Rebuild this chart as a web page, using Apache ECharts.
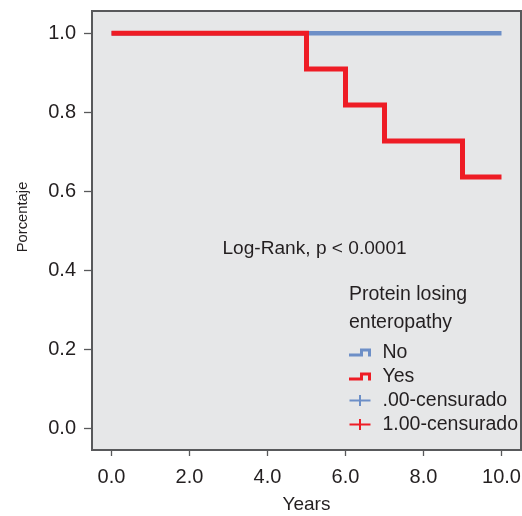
<!DOCTYPE html>
<html><head><meta charset="utf-8">
<script src="https://cdn.jsdelivr.net/npm/echarts@6/dist/echarts.min.js"></script>
<style>html,body{margin:0;padding:0;background:#fff}#c{width:522px;height:516px}</style>
</head><body><div id="c"></div>
<script>
const xTicks = [0, 2, 4, 6, 8, 10];
const yTicks = [0, 0.2, 0.4, 0.6, 0.8, 1.0];
const noTimes = [0, 10];
const noSurv = [1, 1];
const yesTimes = [0, 5, 6, 7, 9, 10];
const yesSurv = [1, 0.909, 0.818, 0.727, 0.636, 0.636];
const legendNames = ['No', 'Yes', '.00-censurado', '1.00-censurado'];

const FONT = '"Liberation Sans", Arial, sans-serif';
const FS = 19.5;
const TXT = '#231f20';
const AX = '#58595b';
const BLUE = '#6d8fc7';
const RED = '#ee1c25';
const stepIcon = 'path://M0 5 H11 V0 H22 V8 H19 V3 H14 V8 H0 Z';
const plusIcon = 'path://M0 4.5 H9.5 V0 H11.5 V4.5 H21 V6.5 H11.5 V11 H9.5 V6.5 H0 Z';

const chart = echarts.init(document.getElementById('c'), null, {renderer: 'canvas'});
chart.setOption({
  animation: false,
  textStyle: {fontFamily: FONT},
  grid: {left: 92, top: 11, right: 1, bottom: 66, show: true, backgroundColor: '#e6e7e8',
         borderColor: AX, borderWidth: 2, containLabel: false, outerBoundsMode: 'none'},
  xAxis: {
    type: 'value', min: -0.5, max: 10.5,
    name: 'Years', nameLocation: 'middle', nameGap: 45,
    nameTextStyle: {fontSize: 19, color: TXT, fontFamily: FONT},
    axisLine: {show: true, onZero: false, lineStyle: {color: AX, width: 2}},
    axisTick: {show: true, length: 6, lineStyle: {color: AX, width: 1.3}, customValues: xTicks},
    axisLabel: {customValues: xTicks, formatter: v => v.toFixed(1), fontSize: 20, color: TXT, margin: 17, fontFamily: FONT},
    splitLine: {show: false}
  },
  yAxis: {
    type: 'value', min: -0.055, max: 1.056,
    axisLine: {show: true, onZero: false, lineStyle: {color: AX, width: 2}},
    axisTick: {show: true, length: 8, lineStyle: {color: AX, width: 1.3}, customValues: yTicks},
    axisLabel: {customValues: yTicks, formatter: v => v.toFixed(1), fontSize: 20, color: TXT, margin: 16, fontFamily: FONT},
    splitLine: {show: false}
  },
  legend: {
    orient: 'vertical', left: 349, top: 340.5, itemGap: 0, padding: 0,
    itemWidth: 22, itemHeight: 11, symbolKeepAspect: true,
    data: [
      {name: 'No', icon: stepIcon},
      {name: 'Yes', icon: stepIcon},
      {name: '.00-censurado', icon: plusIcon},
      {name: '1.00-censurado', icon: plusIcon}
    ],
    textStyle: {fontSize: FS, color: TXT, lineHeight: 24, fontFamily: FONT, padding: [0, 0, 0, 6.5]},
    selectedMode: false
  },
  graphic: [
    {type: 'text', x: 23, y: 217, rotation: Math.PI / 2,
     style: {text: 'Porcentaje', fontSize: 14.8, fill: TXT, fontFamily: FONT, align: 'center', verticalAlign: 'middle'}},
    {type: 'text', x: 222.5, y: 249, style: {text: 'Log-Rank, p < 0.0001', fontSize: 19.1, fill: TXT, fontFamily: FONT, verticalAlign: 'middle'}},
    {type: 'text', x: 349, y: 294.5, style: {text: 'Protein losing', fontSize: FS, fill: TXT, fontFamily: FONT, verticalAlign: 'middle'}},
    {type: 'text', x: 349, y: 322.5, style: {text: 'enteropathy', fontSize: FS, fill: TXT, fontFamily: FONT, verticalAlign: 'middle'}}
  ],
  series: [
    {name: legendNames[0], type: 'line', step: 'end', symbol: 'none', color: BLUE,
     lineStyle: {color: BLUE, width: 4.5, cap: 'butt'}, data: noTimes.map((t, i) => [t, noSurv[i]])},
    {name: legendNames[1], type: 'line', step: 'end', symbol: 'none', color: RED,
     lineStyle: {color: RED, width: 5, cap: 'butt', join: 'miter'}, data: yesTimes.map((t, i) => [t, yesSurv[i]])},
    {name: legendNames[2], type: 'scatter', color: BLUE, itemStyle: {opacity: 1}, data: []},
    {name: legendNames[3], type: 'scatter', color: RED, itemStyle: {opacity: 1}, data: []}
  ]
});
</script></body></html>
